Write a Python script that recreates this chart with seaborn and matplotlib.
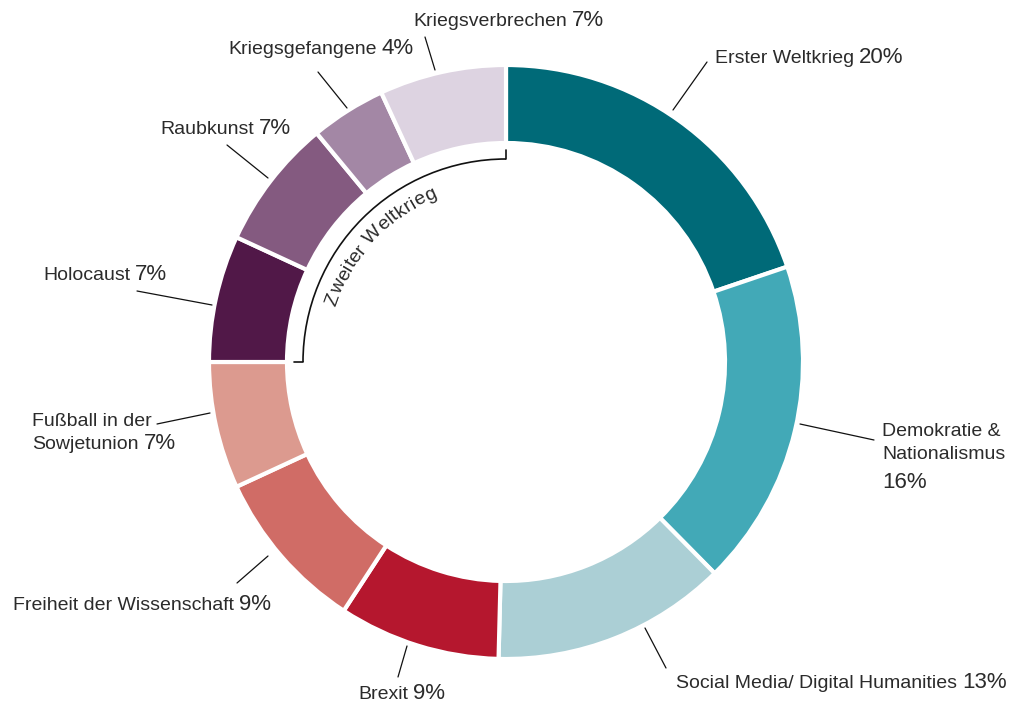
import numpy as np
import matplotlib
matplotlib.use('Agg')
import matplotlib.pyplot as plt
import seaborn as sns
from matplotlib.patches import Arc

# Data
topics = ['Erster Weltkrieg', 'Demokratie &\nNationalismus', 'Social Media/ Digital Humanities',
          'Brexit', 'Freiheit der Wissenschaft', 'Fußball in der\nSowjetunion', 'Holocaust',
          'Raubkunst', 'Kriegsgefangene', 'Kriegsverbrechen']
label_pct = [20, 16, 13, 9, 9, 7, 7, 7, 4, 7]
shares = [19.8, 17.8, 12.8, 8.8, 8.9, 6.9, 6.9, 7.1, 4.1, 6.9]
colors = ['#006a78', '#42a9b7', '#abcfd5', '#b5172e', '#d06c66',
          '#dc9a8f', '#511848', '#845a80', '#a387a5', '#ddd3e1']
group_label = 'Zweiter Weltkrieg'

# Layout (pixels, y measured from top)
W, H = 1026, 707
CX, CY = 506, H - 362
R_OUT, R_IN = 297, 219
label_pos = [(715, 63), (882, 436), (676, 688), (358, 699), (13, 610),
             (32, 426), (43, 280), (160, 134), (228, 54), (413, 26)]
pct_newline = [False, True, False, False, False, False, False, False, False, False]
leaders = [((673, 110), (707, 62)), ((800, 424), (874, 440)), ((645, 628), (666, 668)),
           ((407, 646), (398, 677)), ((237, 583), (268, 556)), ((157, 424), (210, 413)),
           ((137, 291), (212, 305)), ((227, 145), (268, 178)), ((318, 72), (347, 108)),
           ((425, 37), (435, 70))]

sns.set_theme(style='white')
plt.rcParams['font.family'] = ['Liberation Sans', 'DejaVu Sans']
TXT = '#2b2b2b'

fig = plt.figure(figsize=(W / 100, H / 100), dpi=100)
ax = fig.add_axes([0, 0, 1, 1])
ax.pie(shares, colors=colors, startangle=90, counterclock=False,
       center=(CX, CY), radius=R_OUT, frame=True,
       wedgeprops=dict(width=R_OUT - R_IN, edgecolor='white', linewidth=3))
ax.set_xlim(0, W)
ax.set_ylim(0, H)
ax.axis('off')

renderer = fig.canvas.get_renderer()

# Labels with leader lines
for name, pct, (x, yb), newline, (p0, p1) in zip(topics, label_pct, label_pos, pct_newline, leaders):
    ax.plot([p0[0], p1[0]], [H - p0[1], H - p1[1]], color='#111111', lw=0.9)
    lines = name.split('\n')
    y = yb
    last = None
    for i, ln in enumerate(lines):
        y = yb + i * 23
        last = ax.text(x, H - y, ln, fontsize=14, color=TXT, ha='left', va='baseline')
    if newline:
        ax.text(x, H - (y + 29), f'{pct}%', fontsize=16, color=TXT, ha='left', va='baseline')
    else:
        w = last.get_window_extent(renderer).width
        ax.text(x + w + 5, H - y, f'{pct}%', fontsize=16, color=TXT, ha='left', va='baseline')

# Bracket for "Zweiter Weltkrieg"
R_BR = 203
ax.add_patch(Arc((CX, CY), 2 * R_BR, 2 * R_BR, theta1=90, theta2=180, lw=1.2, color='#111111'))
ax.plot([CX, CX], [CY + R_BR, CY + R_BR + 9], color='#111111', lw=1.2)
ax.plot([CX - R_BR, CX - R_BR - 9], [CY, CY], color='#111111', lw=1.2)

# Curved text along the bracket
def text_w(s, size):
    t = ax.text(0, 0, s, fontsize=size)
    w = t.get_window_extent(renderer).width
    t.remove()
    return w

fs = 14
base = text_w('ll', fs)
adv = np.array([text_w('l' + ch + 'l', fs) - base for ch in group_label])
starts = np.concatenate([[0], np.cumsum(adv)[:-1]])
mids = starts + adv / 2
theta_s, theta_e = 288.0, 337.5
r_b = 179
for ch, m in zip(group_label, mids):
    th = theta_s + m / adv.sum() * (theta_e - theta_s)
    phi = np.deg2rad(90 - th)
    ax.text(CX + r_b * np.cos(phi), CY + r_b * np.sin(phi), ch, fontsize=fs, color=TXT,
            rotation=np.rad2deg(phi) - 90, rotation_mode='anchor', ha='center', va='baseline')

fig.savefig('out.png', dpi=100)
